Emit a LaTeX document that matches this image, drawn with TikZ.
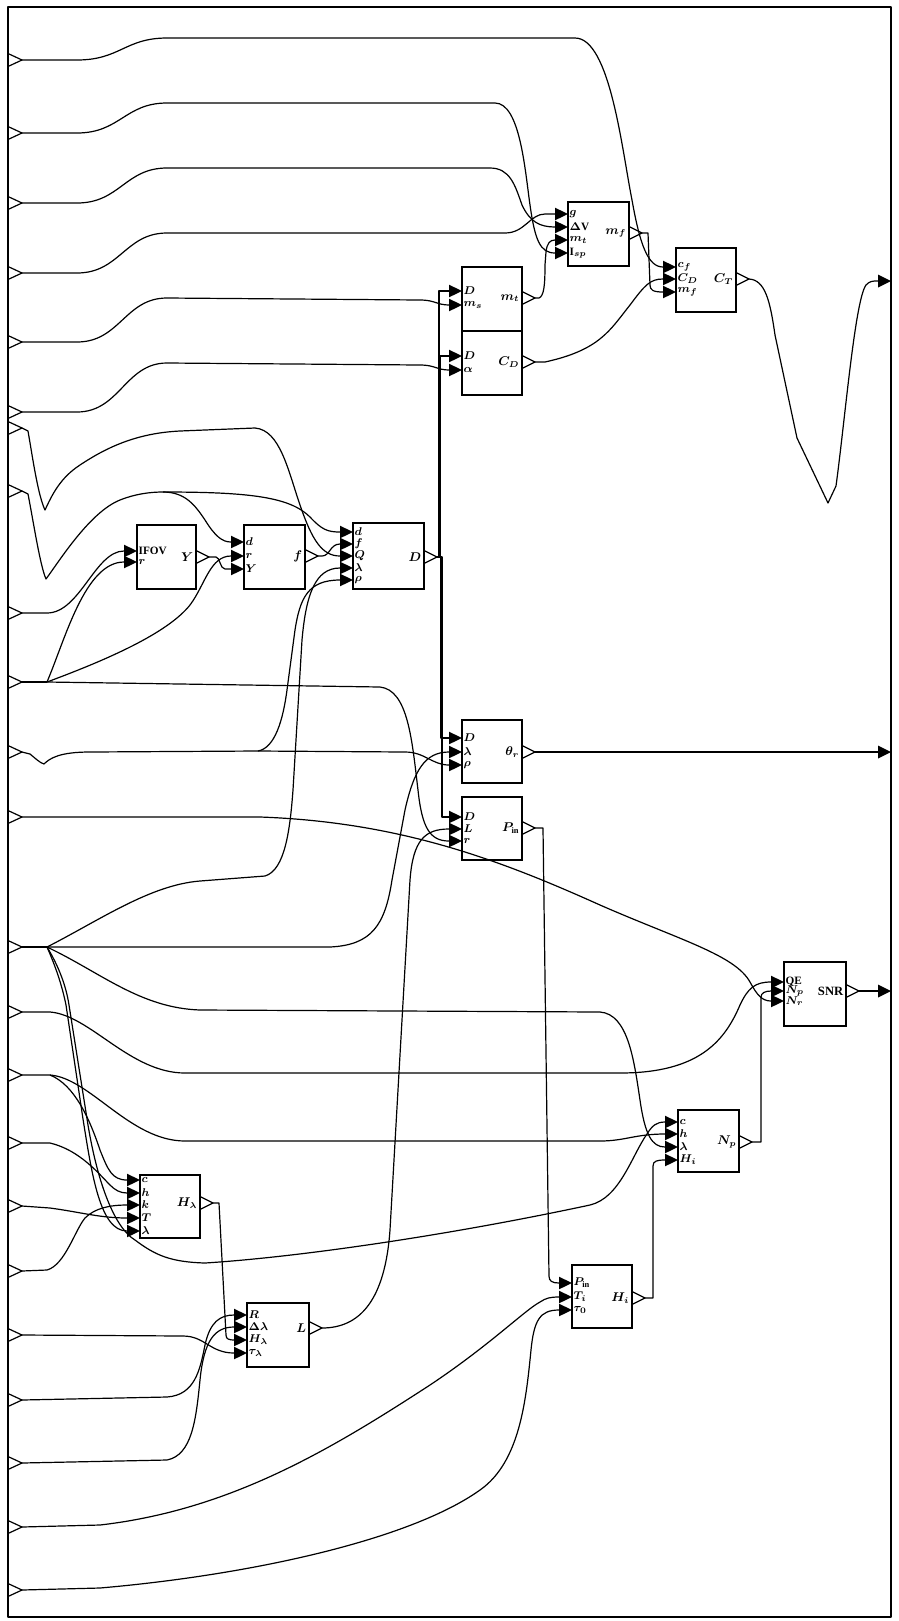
\documentclass[tikz,border=0pt]{standalone}
\usepackage{fontspec}
\setmainfont{Liberation Serif}
\usetikzlibrary{fit}
\tikzset{
  wire/.style={line width=0.3mm, line join=round},
  blk/.style={draw, line width=0.3mm, inner sep=0pt, fill=white},
  plbl/.style={anchor=west, inner sep=0.3pt, font=\fontsize{8}{8}\selectfont\bfseries\boldmath},
  olbl/.style={anchor=east, inner sep=0.3pt, font=\fontsize{9}{9}\selectfont\bfseries\boldmath},
}
\newcommand\mkblock[5]{\node[blk, fit={(#2,#3) (#4,#5)}] (#1) {};}
\newcommand\mkin[4]{%
  \fill ({#2-13},{#3-6.3}) -- (#2,#3) -- ({#2-13},{#3+6.3}) -- cycle;
  \coordinate (#1) at ({#2-13},#3);
  \node[plbl] at ({#2+1},#3) {#4};}
\newcommand\mkout[4]{%
  \draw[wire] (#2,{#3-6.5}) -- ({#2+13},#3) -- (#2,{#3+6.5});
  \coordinate (#1) at ({#2+13},#3);
  \node[olbl] at ({#2-2},#3) {#4};}
\newcommand\frin[2]{\draw[wire] (8,{#2-6.5}) -- (22,#2) -- (8,{#2+6.5}); \coordinate (#1) at (22,#2);}
\newcommand\frout[2]{\fill (878,{#2-6.5}) -- (891,#2) -- (878,{#2+6.5}) -- cycle; \coordinate (#1) at (878,#2);}
\begin{document}
\begin{tikzpicture}[x=0.25mm, y=-0.25mm]
\useasboundingbox (0,0) rectangle (899,1621);
\draw[wire] (8,7) rectangle (891,1617);

% ---------- blocks ----------
\mkblock{mf}{568}{202}{629}{266}
\mkblock{ct}{676}{248}{736}{312}
\mkblock{mt}{462}{267}{522}{331}
\mkblock{cd}{462}{331}{522}{395}
\mkblock{ifov}{137}{525}{196}{589}
\mkblock{fb}{244}{525}{305}{589}
\mkblock{db}{353}{523}{424}{589}
\mkblock{th}{462}{720}{522}{783}
\mkblock{pin}{462}{797}{522}{860}
\mkblock{snr}{784}{962}{846}{1026}
\mkblock{np}{678}{1110}{739}{1172}
\mkblock{hl}{140}{1175}{200}{1238}
\mkblock{lb}{247}{1303}{309}{1367}
\mkblock{hi}{572}{1265}{632}{1328}

% ---------- ports ----------
\mkin{mf-g}{568}{214}{$g$}
\mkin{mf-dv}{568}{227}{$\Delta\mathrm{V}$}
\mkin{mf-mt}{568}{240}{$m_t$}
\mkin{mf-isp}{568}{253}{$\mathrm{I}_{sp}$}
\mkout{mf-o}{629}{233}{$m_f$}

\mkin{ct-cf}{676}{267}{$c_f$}
\mkin{ct-cd}{676}{279}{$C_D$}
\mkin{ct-mf}{676}{292}{$m_f$}
\mkout{ct-o}{736}{279}{$C_T$}

\mkin{mt-D}{462}{291}{$D$}
\mkin{mt-ms}{462}{305}{$m_s$}
\mkout{mt-o}{522}{298}{$m_t$}

\mkin{cd-D}{462}{356}{$D$}
\mkin{cd-al}{462}{370}{$\alpha$}
\mkout{cd-o}{522}{362}{$C_D$}

\mkin{ifov-ifov}{137}{551}{IFOV}
\mkin{ifov-r}{137}{562}{$r$}
\mkout{ifov-o}{196}{557}{$Y$}

\mkin{fb-d}{244}{542}{$d$}
\mkin{fb-r}{244}{556}{$r$}
\mkin{fb-Y}{244}{569}{$Y$}
\mkout{fb-o}{305}{556}{$f$}

\mkin{db-d}{353}{532}{$d$}
\mkin{db-f}{353}{544}{$f$}
\mkin{db-Q}{353}{556}{$Q$}
\mkin{db-lam}{353}{568}{$\lambda$}
\mkin{db-rho}{353}{580}{$\rho$}
\mkout{db-o}{424}{557}{$D$}

\mkin{th-D}{462}{738}{$D$}
\mkin{th-lam}{462}{752}{$\lambda$}
\mkin{th-rho}{462}{765}{$\rho$}
\mkout{th-o}{522}{752}{$\theta_r$}

\mkin{pin-D}{462}{817}{$D$}
\mkin{pin-L}{462}{829}{$L$}
\mkin{pin-r}{462}{841}{$r$}
\mkout{pin-o}{522}{828}{$P_{\mathrm{in}}$}

\mkin{snr-qe}{784}{982}{QE}
\mkin{snr-np}{784}{991}{$N_p$}
\mkin{snr-nr}{784}{1001}{$N_r$}
\mkout{snr-o}{846}{991}{SNR}

\mkin{np-c}{678}{1122}{$c$}
\mkin{np-h}{678}{1134}{$h$}
\mkin{np-lam}{678}{1147}{$\lambda$}
\mkin{np-hi}{678}{1160}{$H_i$}
\mkout{np-o}{739}{1142}{$N_p$}

\mkin{hl-c}{140}{1180}{$c$}
\mkin{hl-h}{140}{1193}{$h$}
\mkin{hl-k}{140}{1205}{$k$}
\mkin{hl-T}{140}{1218}{$T$}
\mkin{hl-lam}{140}{1231}{$\lambda$}
\mkout{hl-o}{200}{1203}{$H_\lambda$}

\mkin{lb-R}{247}{1315}{$R$}
\mkin{lb-dl}{247}{1327}{$\Delta\lambda$}
\mkin{lb-hl}{247}{1340}{$H_\lambda$}
\mkin{lb-tau}{247}{1353}{$\tau_\lambda$}
\mkout{lb-o}{309}{1328}{$L$}

\mkin{hi-pin}{572}{1283}{$P_{\mathrm{in}}$}
\mkin{hi-ti}{572}{1297}{$T_i$}
\mkin{hi-tau}{572}{1310}{$\tau_0$}
\mkout{hi-o}{632}{1298}{$H_i$}

% ---------- frame ports ----------
\frin{in1}{60}   \frin{in2}{133}  \frin{in3}{203}  \frin{in4}{273}
\frin{in5}{342}  \frin{in6}{412}  \frin{in7}{428}  \frin{in8}{491}
\frin{in9}{613}  \frin{in10}{682} \frin{in11}{752} \frin{in12}{817}
\frin{in13}{947} \frin{in14}{1012} \frin{in15}{1075} \frin{in16}{1143}
\frin{in17}{1206} \frin{in18}{1271} \frin{in19}{1335} \frin{in20}{1400}
\frin{in21}{1463} \frin{in22}{1527} \frin{in23}{1590}
\frout{out1}{281} \frout{out2}{752} \frout{out3}{991}

\coordinate (dsplit) at (163,492);
\coordinate (rsplit) at (47,682);
\coordinate (rhosplit) at (258,751);
\coordinate (lamsplit) at (47,947);
\coordinate (csplit) at (50,1075);

% ---------- wires from frame inputs ----------
\draw[wire] (in1) -- (77,60) .. controls (120,60) and (125,38) .. (167,38) -- (575,38) .. controls (610,38) and (622,150) .. (632,200) .. controls (640,245) and (648,267) .. (ct-cf);
\draw[wire] (in2) -- (77,133) .. controls (120,133) and (125,103) .. (167,103) -- (495,103) .. controls (520,103) and (525,170) .. (530,205) .. controls (535,240) and (540,253) .. (mf-isp);
\draw[wire] (in3) -- (77,203) .. controls (120,203) and (125,168) .. (167,168) -- (490,168) .. controls (510,168) and (515,185) .. (522,205) .. controls (530,222) and (540,227) .. (mf-dv);
\draw[wire] (in4) -- (77,273) .. controls (120,273) and (125,233) .. (167,233) -- (505,233) .. controls (525,233) and (530,214) .. (545,214) -- (mf-g);
\draw[wire] (in5) -- (77,342) .. controls (120,342) and (125,298) .. (167,298) -- (420,300) .. controls (435,300) and (437,305) .. (mt-ms);
\draw[wire] (in6) -- (77,412) .. controls (120,412) and (125,363) .. (167,363) -- (420,365) .. controls (435,365) and (437,370) .. (cd-al);
% Q
\draw[wire] (in7) -- (28,431) .. controls (33,460) and (38,495) .. (45,510) .. controls (52,495) and (60,478) .. (80,465) .. controls (110,445) and (140,433) .. (180,431) -- (255,428) .. controls (280,430) and (288,470) .. (300,505) .. controls (312,540) and (322,556) .. (db-Q);
% d
\draw[wire] (in8) -- (28,494) .. controls (34,525) and (40,565) .. (46,579) .. controls (60,560) and (90,512) .. (120,500) .. controls (135,494) and (150,492) .. (dsplit);
\draw[wire] (dsplit) .. controls (185,492) and (195,505) .. (205,520) .. controls (215,536) and (222,542) .. (fb-d);
\draw[wire] (dsplit) .. controls (250,492) and (290,497) .. (310,517) .. controls (322,530) and (328,532) .. (db-d);
% IFOV
\draw[wire] (in9) -- (47,613) .. controls (80,613) and (95,551) .. (ifov-ifov);
% r
\draw[wire] (in10) -- (rsplit);
\draw[wire] (rsplit) .. controls (65,640) and (85,562) .. (ifov-r);
\draw[wire] (rsplit) .. controls (120,655) and (170,630) .. (190,605) .. controls (205,585) and (210,556) .. (fb-r);
\draw[wire] (rsplit) -- (380,687) .. controls (408,690) and (412,740) .. (418,790) .. controls (422,828) and (430,841) .. (pin-r);
% rho
\draw[wire] (in11) -- (30,754) .. controls (35,758) and (40,763) .. (44,764) .. controls (50,758) and (60,752) .. (90,752) -- (rhosplit);
\draw[wire] (rhosplit) .. controls (275,748) and (283,720) .. (287,690) -- (295,630) .. controls (300,598) and (308,580) .. (db-rho);
\draw[wire] (rhosplit) -- (405,752) .. controls (425,752) and (432,765) .. (th-rho);
% N_r
\draw[wire] (in12) -- (260,817) .. controls (400,822) and (500,860) .. (600,905) .. controls (680,940) and (735,955) .. (750,982) .. controls (757,995) and (762,1001) .. (snr-nr);
% lambda
\draw[wire] (in13) -- (lamsplit);
\draw[wire] (lamsplit) .. controls (100,920) and (150,885) .. (200,881) -- (265,876) .. controls (285,870) and (290,830) .. (293,790) -- (302,640) .. controls (306,595) and (315,568) .. (db-lam);
\draw[wire] (lamsplit) -- (330,947) .. controls (372,945) and (385,925) .. (392,880) -- (405,810) .. controls (414,770) and (425,752) .. (th-lam);
\draw[wire] (lamsplit) .. controls (100,972) and (140,1008) .. (200,1010) -- (600,1012) .. controls (628,1014) and (634,1060) .. (640,1100) .. controls (645,1135) and (652,1147) .. (np-lam);
\draw[wire] (lamsplit) .. controls (55,965) and (62,985) .. (66,1005) -- (83,1119) .. controls (92,1175) and (100,1231) .. (hl-lam);
\draw[wire] (lamsplit) .. controls (58,965) and (66,985) .. (69,1005) -- (88,1125) .. controls (98,1185) and (115,1228) .. (135,1240) .. controls (155,1255) and (170,1262) .. (205,1263) .. controls (300,1257) and (450,1235) .. (590,1205) .. controls (620,1198) and (632,1155) .. (647,1134) .. controls (652,1126) and (656,1122) .. (np-c);
% QE
\draw[wire] (in14) -- (50,1012) .. controls (90,1015) and (130,1073) .. (185,1073) -- (620,1073) .. controls (700,1073) and (725,1040) .. (740,1005) .. controls (748,988) and (755,982) .. (snr-qe);
% c, h, T, k
\draw[wire] (in15) -- (csplit) .. controls (90,1078) and (130,1141) .. (185,1141) -- (600,1141) .. controls (625,1141) and (635,1134) .. (np-h);
\draw[wire] (csplit) .. controls (75,1085) and (90,1120) .. (100,1150) .. controls (108,1170) and (112,1180) .. (hl-c);
\draw[wire] (in16) -- (50,1143) .. controls (80,1150) and (100,1175) .. (110,1185) .. controls (115,1190) and (120,1193) .. (hl-h);
\draw[wire] (in17) -- (50,1208) .. controls (80,1212) and (100,1218) .. (hl-T);
\draw[wire] (in18) -- (47,1270) .. controls (65,1265) and (75,1230) .. (85,1218) .. controls (95,1208) and (110,1205) .. (hl-k);
% L inputs
\draw[wire] (in19) -- (183,1336) .. controls (205,1336) and (210,1353) .. (lb-tau);
\draw[wire] (in20) -- (167,1397) .. controls (195,1395) and (200,1370) .. (205,1345) .. controls (210,1322) and (220,1315) .. (lb-R);
\draw[wire] (in21) -- (167,1460) .. controls (192,1455) and (196,1420) .. (200,1380) .. controls (204,1340) and (215,1327) .. (lb-dl);
% H_i inputs
\draw[wire] (in22) -- (100,1525) .. controls (230,1510) and (330,1450) .. (430,1385) .. controls (490,1345) and (525,1310) .. (540,1302) .. controls (546,1298) and (550,1297) .. (hi-ti);
\draw[wire] (in23) -- (100,1588) .. controls (250,1575) and (410,1540) .. (480,1490) .. controls (520,1462) and (526,1400) .. (531,1350) .. controls (534,1320) and (540,1310) .. (hi-tau);

% ---------- internal wires ----------
\draw[wire] (ifov-o) -- (216,557) .. controls (220,557) and (220,569) .. (225,569) -- (fb-Y);
\draw[wire] (fb-o) -- (322,556) .. controls (330,556) and (330,544) .. (db-f);
\draw[wire] (db-o) -- (439,557) -- (439,291) -- (mt-D);
\draw[wire] (db-o) -- (440,557) -- (440,356) -- (cd-D);
\draw[wire] (db-o) -- (441,557) -- (441,738) -- (th-D);
\draw[wire] (db-o) -- (442,557) -- (442,817) -- (pin-D);
\draw[wire] (mt-o) -- (539,298) .. controls (544,296) and (545,285) .. (545,265) -- (546,252) .. controls (547,243) and (550,240) .. (mf-mt);
\draw[wire] (mf-o) -- (648,233) -- (650,285) .. controls (650,290) and (653,292) .. (ct-mf);
\draw[wire] (cd-o) -- (545,362) .. controls (600,350) and (610,330) .. (630,305) .. controls (645,285) and (650,279) .. (ct-cd);
\draw[wire] (ct-o) .. controls (765,280) and (770,300) .. (775,335) -- (797,438) -- (828,503) -- (836,486) .. controls (845,420) and (855,300) .. (866,285) .. controls (870,281) and (872,281) .. (out1);
\draw[wire] (th-o) -- (out2);
\draw[wire] (pin-o) -- (543,828) -- (549,1276) .. controls (549,1281) and (552,1283) .. (hi-pin);
\draw[wire] (hi-o) -- (653,1298) -- (653,1166) .. controls (653,1161) and (657,1160) .. (np-hi);
\draw[wire] (np-o) -- (761,1142) -- (761,997) .. controls (761,993) and (765,991) .. (snr-np);
\draw[wire] (snr-o) -- (out3);
\draw[wire] (hl-o) -- (219,1203) -- (226,1335) .. controls (226,1339) and (229,1340) .. (lb-hl);
\draw[wire] (lb-o) .. controls (360,1328) and (385,1300) .. (390,1230) -- (410,880) .. controls (413,840) and (425,829) .. (pin-L);
\end{tikzpicture}
\end{document}
